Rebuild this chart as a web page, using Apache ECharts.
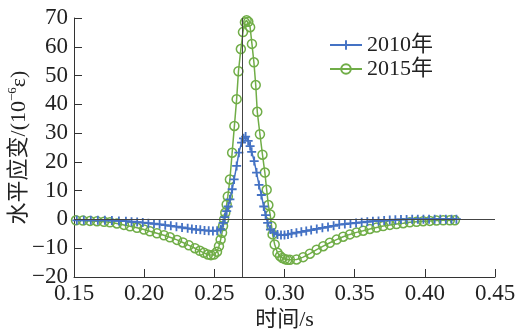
<!DOCTYPE html>
<html>
<head>
<meta charset="utf-8">
<script src="https://cdn.jsdelivr.net/npm/echarts@6/dist/echarts.min.js"></script>
<style>
html,body{margin:0;padding:0;background:#fff;}
#chart{width:516px;height:330px;}
</style>
</head>
<body>
<div id="chart"></div>
<script>
// ---- data (time in s, strain in 10^-6 ε) ----
var seriesNames = ['2010年', '2015年'];
var xTicks = [0.15, 0.20, 0.25, 0.30, 0.35, 0.40, 0.45];
var yTicks = [-20, -10, 0, 10, 20, 30, 40, 50, 60, 70];
var peakTime = 0.271;

var t2010 = [0.152,0.157,0.162,0.167,0.172,0.177,0.182,0.187,0.191,0.195,0.199,0.203,0.207,0.211,0.215,0.219,0.223,0.227,0.231,0.234,0.237,0.240,0.243,0.246,0.249,0.252,0.2545,0.2563,0.2575,0.2588,0.2599,0.2611,0.2627,0.2641,0.2659,0.2675,0.2694,0.2708,0.2723,0.2741,0.2755,0.2766,0.2784,0.2801,0.2818,0.2835,0.2852,0.2865,0.2880,0.2900,0.2925,0.2950,0.2975,0.3000,0.3025,0.3050,0.3085,0.3120,0.3155,0.3190,0.3230,0.3270,0.3310,0.3350,0.3390,0.3430,0.3470,0.3510,0.3550,0.3590,0.3630,0.3670,0.3710,0.3750,0.3790,0.3830,0.3870,0.3910,0.3950,0.3990,0.4030,0.4070,0.4110,0.4150,0.4190,0.4225];
var v2010 = [-0.3,-0.3,-0.3,-0.3,-0.3,-0.4,-0.5,-0.6,-0.8,-0.9,-1.1,-1.3,-1.5,-1.7,-2.0,-2.2,-2.5,-2.8,-3.1,-3.3,-3.5,-3.6,-3.8,-3.9,-4.0,-3.9,-3.4,-1.2,0.8,2.9,4.5,7.0,10.5,13.9,18.6,23.2,26.7,28.2,28.8,27.3,25.5,23.5,20.3,16.3,12.0,8.5,4.5,1.5,-1.2,-3.5,-4.6,-5.2,-5.4,-5.4,-5.2,-4.9,-4.6,-4.3,-4.0,-3.7,-3.3,-2.9,-2.6,-2.2,-1.8,-1.6,-1.4,-1.2,-1.0,-0.8,-0.6,-0.5,-0.4,-0.2,-0.1,0.0,0.0,0.1,0.1,0.1,0.1,0.1,0.1,0.1,0.1,0.1];

var t2015 = [0.1514,0.1564,0.1614,0.1664,0.1714,0.1756,0.1806,0.1856,0.1899,0.1949,0.1999,0.2041,0.2091,0.2141,0.2184,0.2234,0.2276,0.2319,0.2362,0.2397,0.2426,0.2454,0.2476,0.2497,0.2519,0.2533,0.2545,0.2555,0.2562,0.2570,0.2578,0.2588,0.2596,0.2611,0.2627,0.2643,0.2659,0.2672,0.2689,0.2704,0.2718,0.2730,0.2742,0.2755,0.2768,0.2782,0.2795,0.2806,0.2825,0.2843,0.2860,0.2873,0.2885,0.2898,0.2908,0.2915,0.2930,0.2950,0.2968,0.2985,0.3003,0.3020,0.3038,0.3086,0.3133,0.3181,0.3229,0.3276,0.3323,0.3371,0.3418,0.3466,0.3513,0.3561,0.3608,0.3656,0.3703,0.3751,0.3798,0.3846,0.3893,0.3941,0.3988,0.4036,0.4083,0.4131,0.4178,0.4214];
var v2015 = [-0.3,-0.4,-0.5,-0.6,-0.8,-1.0,-1.4,-1.9,-2.4,-2.9,-3.5,-4.1,-4.8,-5.5,-6.2,-7.1,-8.0,-9.0,-10.0,-10.9,-11.6,-12.2,-12.4,-12.2,-11.2,-9.3,-7.0,-4.6,-2.3,0.0,2.3,5.2,8.0,13.9,23.2,32.5,41.8,51.5,59.2,65.1,68.5,69.2,68.7,66.8,61.0,54.6,46.7,37.4,29.6,22.5,16.3,10.3,5.0,1.7,-2.3,-5.2,-8.7,-11.6,-12.7,-13.4,-13.8,-14.0,-14.0,-13.9,-13.1,-11.9,-10.5,-9.3,-8.1,-7.0,-6.0,-5.2,-4.5,-3.9,-3.3,-2.8,-2.3,-1.9,-1.6,-1.3,-1.0,-0.8,-0.6,-0.5,-0.4,-0.3,-0.3,-0.3];

function zip(a, b) { return a.map(function (x, i) { return [x, b[i]]; }); }

var BLUE = '#4472C4', GREEN = '#70AD47';
var SERIF = "'Liberation Serif', 'Times New Roman', 'Noto Sans CJK SC', serif";
var PLUS = 'path://M4,0H6V4H10V6H6V10H4V6H0V4H4Z';

var chart = echarts.init(document.getElementById('chart'), null, {renderer: 'canvas'});
chart.setOption({
  animation: false,
  backgroundColor: '#fff',
  grid: {left: 74, right: 21, top: 18, bottom: 53, containLabel: false, outerBoundsMode: 'none'},
  legend: {
    orient: 'vertical', left: 324, top: 29,
    itemWidth: 32, itemHeight: 12, itemGap: 2,
    textStyle: {fontSize: 22, fontFamily: SERIF, color: '#222'},
    data: seriesNames
  },
  xAxis: {
    type: 'value', min: xTicks[0], max: xTicks[xTicks.length - 1], interval: 0.05,
    name: '时间/s', nameLocation: 'middle', nameGap: 32, nameMoveOverlap: false,
    nameTextStyle: {fontSize: 22, fontFamily: SERIF, color: '#222'},
    axisLine: {onZero: false, lineStyle: {color: '#333', width: 1}},
    axisTick: {inside: true, length: 8, lineStyle: {color: '#333'}},
    axisLabel: {fontSize: 23, fontFamily: SERIF, color: '#222', margin: 5,
      formatter: function (v) { return v.toFixed(2); }},
    splitLine: {show: false}
  },
  yAxis: {
    type: 'value', min: yTicks[0], max: yTicks[yTicks.length - 1], interval: 10,
    name: '{n|水平应变/(10}{sup|−6}{n|ε)}', nameLocation: 'middle', nameGap: 41, nameRotate: 90,
    nameMoveOverlap: false,
    nameTextStyle: {
      fontFamily: SERIF, color: '#222',
      rich: {
        n: {fontSize: 22, fontFamily: SERIF, color: '#222', lineHeight: 27},
        sup: {fontSize: 13, fontFamily: SERIF, color: '#222', lineHeight: 15, verticalAlign: 'top'}
      }
    },
    axisLine: {onZero: false, lineStyle: {color: '#333', width: 1}},
    axisTick: {inside: true, length: 8, lineStyle: {color: '#333'}},
    axisLabel: {fontSize: 23, fontFamily: SERIF, color: '#222', margin: 6,
      formatter: function (v) { return v < 0 ? '\u2212' + Math.abs(v) : String(v); }},
    splitLine: {show: false}
  },
  series: [
    {
      name: seriesNames[0], type: 'line', data: zip(t2010, v2010),
      symbol: PLUS, symbolSize: 9,
      itemStyle: {color: BLUE},
      lineStyle: {color: BLUE, width: 1.5},
      z: 3,
      markLine: {
        silent: true, symbol: ['none', 'none'], label: {show: false},
        lineStyle: {color: '#444', width: 1, type: 'solid'},
        data: [{xAxis: peakTime}, {yAxis: 0}],
        z: 5
      }
    },
    {
      name: seriesNames[1], type: 'line', data: zip(t2015, v2015),
      symbol: 'circle', symbolSize: 9,
      itemStyle: {color: 'rgba(255,255,255,0)', borderColor: GREEN, borderWidth: 1.5},
      lineStyle: {color: GREEN, width: 1.5},
      z: 2
    }
  ]
});
</script>
</body>
</html>
